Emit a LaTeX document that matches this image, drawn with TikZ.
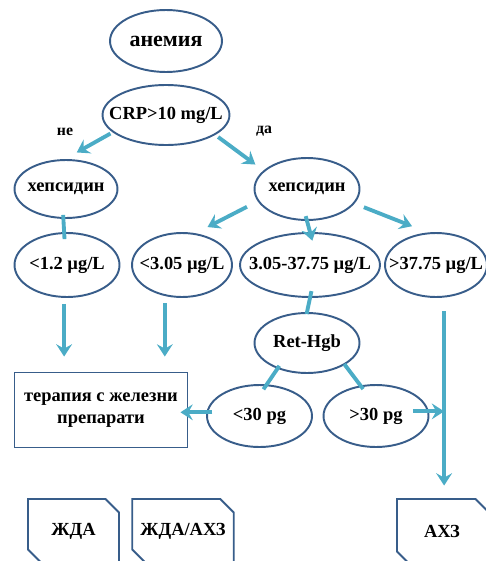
\documentclass[tikz,border=0pt]{standalone}
\usepackage{fontspec}
\setmainfont{Liberation Serif}
\usetikzlibrary{arrows.meta,shapes.geometric,shapes.misc}
\definecolor{rimblue}{RGB}{56,93,138}
\definecolor{arrowblue}{RGB}{75,172,198}

\begin{document}
\begin{tikzpicture}[x=0.02cm,y=-0.02cm,>={Stealth[length=7pt,width=9pt,inset=2.5pt]},font=\bfseries\fontsize{10.5}{12.5}\selectfont]
        {

          \tikzstyle{place}=[ellipse,draw=rimblue,line width=1.1pt,inner sep=0pt,minimum height=1.24cm]
          \tikzstyle{box}=[rectangle,draw=rimblue,line width=1.1pt,align=center]
          \tikzstyle{result}=[chamfered rectangle,chamfered rectangle corners={north east,south west},chamfered rectangle xsep=0.22cm,draw=rimblue,line width=1.1pt,inner sep=0pt,minimum height=1.28cm]
          \tikzstyle{texto}=[font=\bfseries\fontsize{9}{10}\selectfont]
          \tikzstyle{arrow}=[->,draw=arrowblue,line width=2.2pt]
          \tikzstyle{link}=[draw=arrowblue,line width=2.2pt]

          \useasboundingbox (0,0) rectangle (486,561);
          \clip (0,0) rectangle (486,561);

          \begin{scope}

            \node [place,minimum width=2.24cm,label={[font=\bfseries\fontsize{12.5}{14}\selectfont]center:анемия}] (c1) at (166,41) {};
            \node [place,minimum width=2.54cm,minimum height=1.2cm,label=center:{CRP>10 mg/L}] (c2) at (166,115) {};

            \node [texto] (ne) at (65,132) {не};
            \node [texto] (da) at (264,131) {да};

            \node [place,minimum width=2.06cm,minimum height=1.16cm,label=center:хепсидин] (c3) at (66,189) {};
            \node [place,minimum width=2.1cm,label=center:хепсидин] (c4) at (307,189) {};

            \node [place,minimum width=2.1cm,minimum height=1.28cm,label=center:{<1.2 µg/L}] (c5) at (67,265) {};
            \node [place,minimum width=2cm,minimum height=1.28cm,label=center:{<3.05 µg/L}] (c6) at (182,265) {};
            \node [place,minimum width=2.8cm,minimum height=1.28cm,label=center:{3.05-37.75 µg/L}] (c7) at (310,265) {};
            \node [place,minimum width=2.04cm,minimum height=1.28cm,label=center:{>37.75 µg/L}] (c8) at (436,265) {};

            \node [place,minimum width=2.1cm,minimum height=1.2cm,label=center:Ret-Hgb] (c9) at (307,343) {};

            \node [box,minimum width=3.46cm,minimum height=1.5cm] (c10) at (101,410) {терапия с железни\\препарати};
            \node [place,minimum width=2.1cm,label=center:{<30 pg}] (c11) at (259.5,416) {};
            \node [place,minimum width=2.1cm,label=center:{>30 pg}] (c12) at (376,416) {};

            \node [result,minimum width=1.82cm] (c13) at (73.5,531) {ЖДА};
            \node [result,minimum width=1.84cm] (c14) at (183,531) {ЖДА/АХЗ};
            \node [result,minimum width=1.8cm] (c15) at (442,531) {АХЗ};

            \draw [arrow,shorten <=0.05cm,shorten >=0.27cm] (c2.198) -- (c3.92);
            \draw [arrow,shorten <=0.07cm,shorten >=0.2cm] (c2.-22) -- (c4.157);

            \draw [link,shorten <=-0.08cm,shorten >=-0.14cm] (c3.265) -- (c5.95);
            \draw [arrow,shorten <=0.24cm,shorten >=0.27cm] (c4.194) -- (c6.67);
            \draw [arrow,shorten <=-0.1cm,shorten >=-0.18cm] (c4.south) -- (c7.north);
            \draw [arrow,shorten <=0.2cm,shorten >=0.34cm] (c4.-17) -- (c8.104);

            \draw [arrow,shorten <=0.12cm,shorten >=0.3cm] (c5.265) -- (c5.265 |- c10.north);
            \draw [arrow,shorten <=0.14cm,shorten >=0.3cm] (c6.241) -- (c6.241 |- c10.north);
            \draw [link,shorten <=-0.14cm,shorten >=-0.04cm] (c7.south) -- (c9.north);
            \draw [arrow,shorten <=0.27cm,shorten >=0.25cm] (c8.-76) -- (c8.-76 |- c15.north);

            \draw [link,shorten <=-0.07cm,shorten >=-0.12cm] (c9.221) -- (c11.77);
            \draw [link,shorten <=-0.02cm,shorten >=-0.09cm] (c9.-30) -- (c12.117);
            \draw [arrow,shorten <=-0.12cm,shorten >=-0.16cm] (c11.176) -- (c11.176 -| c10.east);
            \draw [arrow,shorten <=-0.32cm] (c12.5) -- (c12.5 -| c8.-76);

          \end{scope}
        }
\end{tikzpicture}
\end{document}
